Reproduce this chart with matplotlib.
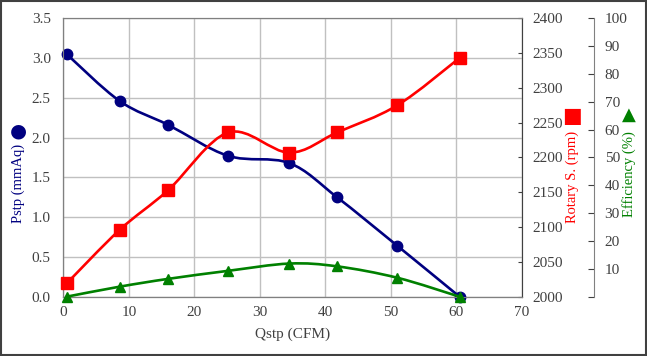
import matplotlib.pyplot as plt
from matplotlib.path import Path
from matplotlib.patches import PathPatch, Rectangle

# data
qstp = [0.5, 8.6, 16.0, 25.2, 34.5, 41.8, 51.0, 60.5]
pstp = [3.05, 2.46, 2.16, 1.77, 1.68, 1.25, 0.64, 0.0]
rpm = [2019, 2096, 2153, 2236, 2207, 2236, 2275, 2343]
eff = [0.0, 3.6, 6.4, 9.3, 11.9, 10.9, 6.8, 0.0]

xticks = [0, 10, 20, 30, 40, 50, 60, 70]
pticks = [0.0, 0.5, 1.0, 1.5, 2.0, 2.5, 3.0, 3.5]
rticks = [2000, 2050, 2100, 2150, 2200, 2250, 2300, 2350, 2400]
eticks = [0, 10, 20, 30, 40, 50, 60, 70, 80, 90, 100]

SERIF = ['Liberation Serif', 'DejaVu Serif']
SYM = ['DejaVu Sans']
BLUE = '#000080'
RED = '#ff0000'
GREEN = '#008000'
TXT = '#404040'


def smooth(ax, xs, ys, color):
    # excel-style smoothed line: cubic bezier through every point
    n = len(xs)
    verts = [(xs[0], ys[0])]
    codes = [Path.MOVETO]
    for i in range(n - 1):
        x0, y0 = (xs[i - 1], ys[i - 1]) if i > 0 else (xs[i], ys[i])
        x3, y3 = (xs[i + 2], ys[i + 2]) if i + 2 < n else (xs[i + 1], ys[i + 1])
        c1 = (xs[i] + (xs[i + 1] - x0) / 6, ys[i] + (ys[i + 1] - y0) / 6)
        c2 = (xs[i + 1] - (x3 - xs[i]) / 6, ys[i + 1] - (y3 - ys[i]) / 6)
        verts += [c1, c2, (xs[i + 1], ys[i + 1])]
        codes += [Path.CURVE4] * 3
    ax.add_patch(PathPatch(Path(verts, codes), fill=False, edgecolor=color,
                           lw=1.9, clip_on=False, zorder=3))


fig = plt.figure(figsize=(6.47, 3.56), dpi=100)
fig.patches.append(Rectangle((0.002, 0.003), 0.996, 0.994, transform=fig.transFigure,
                             fill=False, edgecolor='#404040', lw=1.5))

ax = fig.add_axes([0.0979, 0.1666, 0.7085, 0.782])
ax2 = ax.twinx()
ax3 = ax.twinx()

# Pstp
smooth(ax, qstp, pstp, BLUE)
ax.plot(qstp, pstp, 'o', color=BLUE, ms=7.5, zorder=4, clip_on=False)
ax.set_xlim(0, 70)
ax.set_ylim(0, 3.5)
ax.set_xticks(xticks)
ax.set_yticks(pticks)
ax.set_yticklabels(['%.1f' % v for v in pticks])
ax.grid(True, color='#c0c0c0', lw=1.0)
ax.set_axisbelow(True)
ax.tick_params(length=0, labelsize=11, colors=TXT)
ax.tick_params(axis='y', pad=9)
ax.tick_params(axis='x', pad=7)
for lab in ax.get_xticklabels() + ax.get_yticklabels():
    lab.set_family(SERIF)
ax.set_xlabel('Qstp (CFM)', family=SERIF, fontsize=11, color=TXT, labelpad=6)

# Rotary speed
smooth(ax2, qstp, rpm, RED)
ax2.plot(qstp, rpm, 's', color=RED, ms=8, zorder=4, clip_on=False)
ax2.set_ylim(2000, 2400)
ax2.set_yticks(rticks)
ax2.tick_params(direction='in', length=3, labelsize=11, colors=TXT, pad=8)
for lab in ax2.get_yticklabels():
    lab.set_family(SERIF)

# Efficiency
smooth(ax3, qstp, eff, GREEN)
ax3.plot(qstp, eff, '^', color=GREEN, ms=7.5, zorder=4, clip_on=False)
ax3.set_ylim(0, 100)
ax3.set_yticks(eticks)
ax3.set_yticklabels([''] + [str(v) for v in eticks[1:]])
ax3.spines['right'].set_position(('axes', 1.1566))
ax3.tick_params(direction='in', length=4, labelsize=11, colors=TXT, pad=8)
for lab in ax3.get_yticklabels():
    lab.set_family(SERIF)

for a in (ax, ax2, ax3):
    for s in a.spines.values():
        s.set_color('#808080')
ax.spines['left'].set_color('#404040')
ax.spines['bottom'].set_color('#404040')
ax2.spines['right'].set_color('#404040')
for s in ('left', 'top', 'bottom'):
    ax3.spines[s].set_visible(False)

# axis titles with their series symbols
fig.text(18 / 647, 1 - 183 / 356, 'Pstp (mmAq)', rotation=90, ha='center', va='center',
         family=SERIF, fontsize=10.5, color=BLUE)
fig.text(18 / 647, 1 - 131 / 356, '\u25cf', ha='center', va='center',
         family=SYM, fontsize=14, color=BLUE)
fig.text(572 / 647, 1 - 177 / 356, 'Rotary S. (rpm)', rotation=90, ha='center', va='center',
         family=SERIF, fontsize=10.5, color=RED)
fig.text(572 / 647, 1 - 116 / 356, '\u25a0', ha='center', va='center',
         family=SYM, fontsize=15, color=RED)
fig.text(629 / 647, 1 - 174 / 356, 'Efficiency (%)', rotation=90, ha='center', va='center',
         family=SERIF, fontsize=10.5, color=GREEN)
fig.text(629 / 647, 1 - 115 / 356, '\u25b2', ha='center', va='center',
         family=SYM, fontsize=13, color=GREEN)

fig.savefig('out.png', dpi=100)
